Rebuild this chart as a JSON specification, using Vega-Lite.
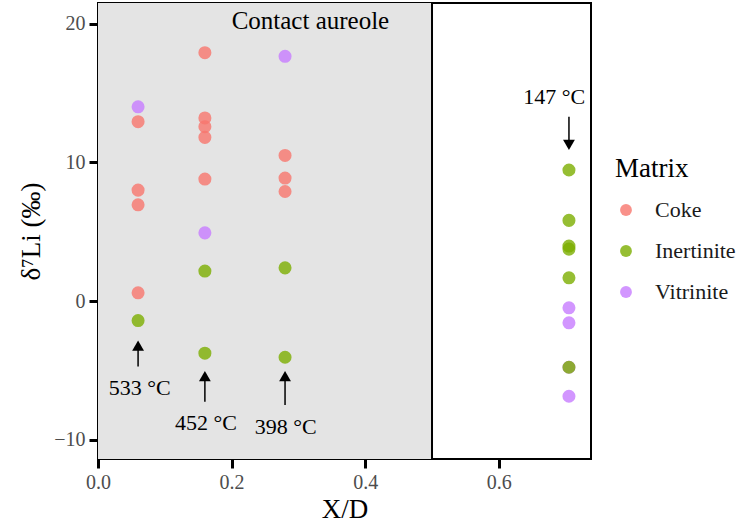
{
  "$schema": "https://vega.github.io/schema/vega-lite/v6.json",
  "width": 493,
  "height": 456,
  "autosize": "none",
  "padding": {"left": 98, "top": 3, "right": 147, "bottom": 66},
  "background": "white",
  "config": {
    "font": "Liberation Serif",
    "view": {"stroke": "black", "strokeWidth": 2},
    "axis": {"grid": false, "domain": false, "tickColor": "black", "tickWidth": 3, "tickSize": 9, "labelFlush": false,
      "labelFont": "Liberation Serif", "labelFontSize": 20, "labelColor": "#4d4d4d", "labelPadding": 4,
      "titleFont": "Liberation Serif", "titleFontSize": 27, "titleFontWeight": "normal", "titleColor": "black"}
  },
  "datasets": {
    "points": [
      {"xd": 0.06, "li": 14.0, "Matrix": "Vitrinite"},
      {"xd": 0.06, "li": 12.93, "Matrix": "Coke"},
      {"xd": 0.06, "li": 8.0, "Matrix": "Coke"},
      {"xd": 0.06, "li": 6.94, "Matrix": "Coke"},
      {"xd": 0.06, "li": 0.6, "Matrix": "Coke"},
      {"xd": 0.06, "li": -1.4, "Matrix": "Inertinite"},
      {"xd": 0.16, "li": 17.9, "Matrix": "Coke"},
      {"xd": 0.16, "li": 13.2, "Matrix": "Coke"},
      {"xd": 0.16, "li": 12.57, "Matrix": "Coke"},
      {"xd": 0.16, "li": 11.8, "Matrix": "Coke"},
      {"xd": 0.16, "li": 8.8, "Matrix": "Coke"},
      {"xd": 0.16, "li": 4.92, "Matrix": "Vitrinite"},
      {"xd": 0.16, "li": 2.17, "Matrix": "Inertinite"},
      {"xd": 0.16, "li": -3.75, "Matrix": "Inertinite"},
      {"xd": 0.28, "li": 17.64, "Matrix": "Vitrinite"},
      {"xd": 0.28, "li": 10.5, "Matrix": "Coke"},
      {"xd": 0.28, "li": 8.87, "Matrix": "Coke"},
      {"xd": 0.28, "li": 7.9, "Matrix": "Coke"},
      {"xd": 0.28, "li": 2.4, "Matrix": "Inertinite"},
      {"xd": 0.28, "li": -4.04, "Matrix": "Inertinite"},
      {"xd": 0.705, "li": -0.48, "Matrix": "Vitrinite"},
      {"xd": 0.705, "li": -1.56, "Matrix": "Vitrinite"},
      {"xd": 0.705, "li": -4.76, "Matrix": "Vitrinite"},
      {"xd": 0.705, "li": -6.85, "Matrix": "Vitrinite"},
      {"xd": 0.705, "li": 9.45, "Matrix": "Inertinite"},
      {"xd": 0.705, "li": 5.82, "Matrix": "Inertinite"},
      {"xd": 0.705, "li": 3.97, "Matrix": "Inertinite"},
      {"xd": 0.705, "li": 3.75, "Matrix": "Inertinite"},
      {"xd": 0.705, "li": 1.68, "Matrix": "Inertinite"},
      {"xd": 0.705, "li": -4.76, "Matrix": "Inertinite"}
    ],
    "arrows": [
      {"xd": 0.06, "y0": -4.7, "y1": -3.3, "head": -3.2, "dir": "up"},
      {"xd": 0.16, "y0": -7.24, "y1": -5.5, "head": -5.4, "dir": "up"},
      {"xd": 0.28, "y0": -7.48, "y1": -5.5, "head": -5.4, "dir": "up"},
      {"xd": 0.705, "y0": 13.29, "y1": 11.35, "head": 11.26, "dir": "down"}
    ],
    "labels": [
      {"xd": 0.0625, "li": -6.25, "text": "533 °C", "size": 22},
      {"xd": 0.1615, "li": -8.75, "text": "452 °C", "size": 22},
      {"xd": 0.281, "li": -9.04, "text": "398 °C", "size": 22},
      {"xd": 0.683, "li": 14.7, "text": "147 °C", "size": 22},
      {"xd": 0.318, "li": 20.2, "text": "Contact aureole", "size": 25}
    ]
  },
  "layer": [
    {
      "data": {"values": [{"x0": 0, "x1": 0.5}]},
      "mark": {"type": "rect", "fill": "#e4e4e4"},
      "encoding": {
        "x": {"field": "x0", "type": "quantitative", "scale": {"domain": [0, 0.738], "nice": false, "zero": false}},
        "x2": {"field": "x1"}
      }
    },
    {
      "data": {"values": [{"x0": 0.5}]},
      "mark": {"type": "rule", "color": "black", "strokeWidth": 2},
      "encoding": {"x": {"field": "x0", "type": "quantitative"}}
    },
    {
      "data": {"name": "points"},
      "mark": {"type": "point", "filled": true, "opacity": 0.8, "size": 170, "shape": "circle"},
      "encoding": {
        "x": {"field": "xd", "type": "quantitative",
          "scale": {"domain": [0, 0.738], "nice": false, "zero": false},
          "axis": {"values": [0, 0.2, 0.4, 0.6], "format": ".1f", "title": "X/D", "titlePadding": 4}},
        "y": {"field": "li", "type": "quantitative",
          "scale": {"domain": [-11.37, 21.48], "nice": false, "zero": false},
          "axis": {"values": [-10, 0, 10, 20], "title": "δ⁷Li (‰)", "titlePadding": 8}},
        "color": {"field": "Matrix", "type": "nominal",
          "scale": {"domain": ["Coke", "Inertinite", "Vitrinite"], "range": ["#F8766D", "#7CAE00", "#C77CFF"]},
          "legend": {"orient": "none", "legendX": 517, "legendY": 153, "titleFontSize": 27, "titleFontWeight": "normal",
            "titleColor": "black", "titleFont": "Liberation Serif", "labelFont": "Liberation Serif", "labelFontSize": 22,
            "labelColor": "#1a1a1a", "symbolSize": 140, "symbolType": "circle", "rowPadding": 19, "titlePadding": 16,
            "labelOffset": 18, "symbolStrokeWidth": 0, "symbolOpacity": 0.8}}
      }
    },
    {
      "data": {"name": "arrows"},
      "mark": {"type": "rule", "color": "black", "strokeWidth": 1.5},
      "encoding": {
        "x": {"field": "xd", "type": "quantitative"},
        "y": {"field": "y0", "type": "quantitative"},
        "y2": {"field": "y1"}
      }
    },
    {
      "data": {"name": "arrows"},
      "mark": {"type": "point", "filled": true, "color": "black", "opacity": 1, "size": 140},
      "encoding": {
        "x": {"field": "xd", "type": "quantitative"},
        "y": {"field": "head", "type": "quantitative"},
        "shape": {"field": "dir", "type": "nominal", "scale": {"domain": ["up", "down"], "range": ["triangle-up", "triangle-down"]}, "legend": null}
      }
    },
    {
      "data": {"name": "labels"},
      "mark": {"type": "text", "color": "black", "font": "Liberation Serif", "baseline": "middle", "align": "center"},
      "encoding": {
        "x": {"field": "xd", "type": "quantitative"},
        "y": {"field": "li", "type": "quantitative"},
        "text": {"field": "text"},
        "size": {"field": "size", "type": "quantitative", "scale": null}
      }
    }
  ]
}
